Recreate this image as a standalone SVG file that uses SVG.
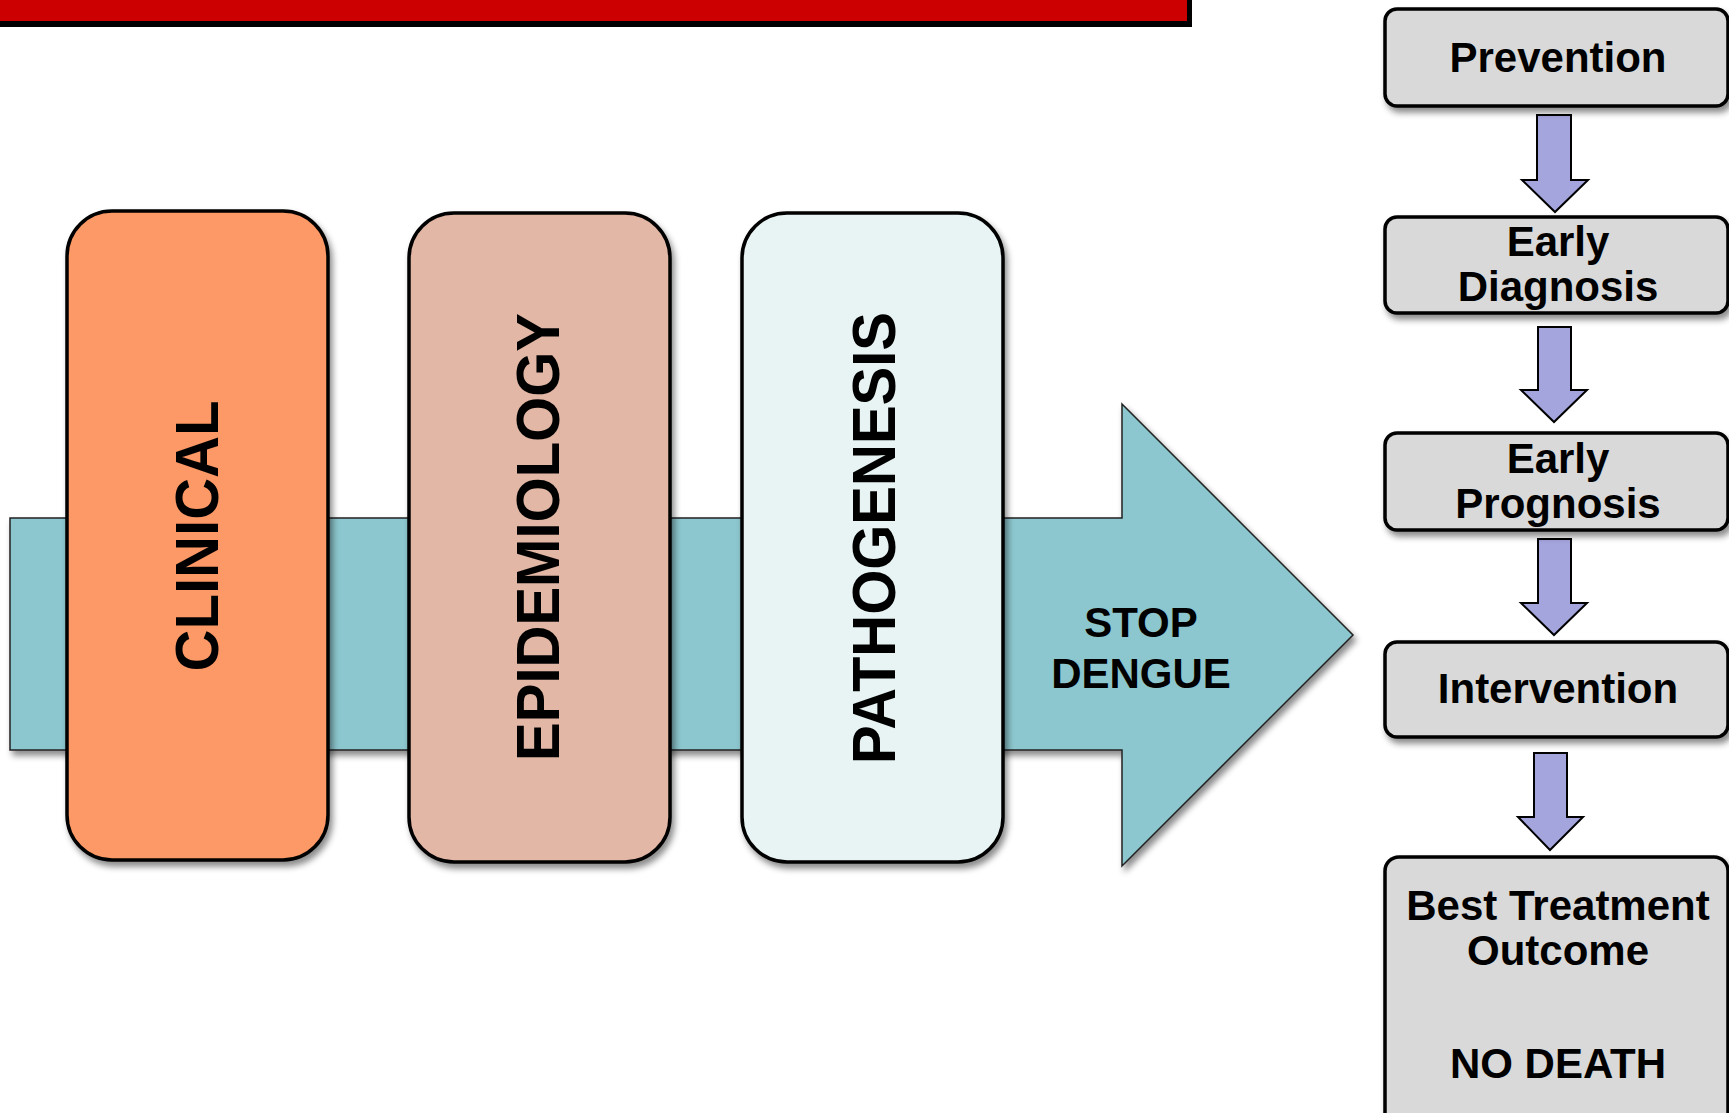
<svg xmlns="http://www.w3.org/2000/svg" width="1729" height="1113" viewBox="0 0 1729 1113">
<defs>
<filter id="sh" x="-10%" y="-10%" width="130%" height="130%">
<feDropShadow dx="3" dy="5" stdDeviation="3" flood-color="#000" flood-opacity="0.45"/>
</filter>
</defs>
<style>
.vt{font-family:"Liberation Sans",Arial,sans-serif;font-weight:bold;font-size:62px;fill:#000;text-anchor:middle}
.gt{font-family:"Liberation Sans",Arial,sans-serif;font-weight:bold;font-size:42px;fill:#000;text-anchor:middle}
.vbox{stroke:#000;stroke-width:3.5}
.gbox{fill:#d9d9d9;stroke:#000;stroke-width:3.5}
.darr{fill:#a5a5de;stroke:#000;stroke-width:2}
</style>
<rect width="1729" height="1113" fill="#fff"/>
<g id="title-bar">
<rect x="-5" y="-5" width="1197" height="32" fill="#000"/>
<rect x="-5" y="-5" width="1192" height="26" fill="#cc0000"/>
</g>
<g id="connectors">
<polygon id="big-arrow" points="10,518 1122,518 1122,404 1353,635 1122,866 1122,750 10,750" fill="#8cc6ce" stroke="#222" stroke-width="1.5" filter="url(#sh)"/>
<polygon class="darr" points="1537,115 1571,115 1571,180 1588,180 1555,212 1522,180 1537,180"/>
<polygon class="darr" points="1538,327 1571,327 1571,390 1587,390 1554,422 1521,390 1538,390"/>
<polygon class="darr" points="1538,539 1571,539 1571,603 1587,603 1554,635 1521,603 1538,603"/>
<polygon class="darr" points="1534,753 1567,753 1567,817 1583,817 1550,850 1518,817 1534,817"/>
</g>
<g id="stop-dengue">
<text class="gt" x="1141" y="637">STOP</text>
<text class="gt" x="1141" y="688">DENGUE</text>
</g>
<g id="clinical">
<rect class="vbox" x="67" y="211" width="261" height="649" rx="45" fill="#fd9966" filter="url(#sh)"/>
<text class="vt" transform="translate(218,536) rotate(-90)" x="0" y="0" textLength="271" lengthAdjust="spacingAndGlyphs">CLINICAL</text>
</g>
<g id="epidemiology">
<rect class="vbox" x="409" y="213" width="261" height="649" rx="45" fill="#e2b7a5" filter="url(#sh)"/>
<text class="vt" transform="translate(559,537) rotate(-90)" x="0" y="0" textLength="448" lengthAdjust="spacingAndGlyphs">EPIDEMIOLOGY</text>
</g>
<g id="pathogenesis">
<rect class="vbox" x="742" y="213" width="261" height="649" rx="45" fill="#e8f4f4" filter="url(#sh)"/>
<text class="vt" transform="translate(895,538) rotate(-90)" x="0" y="0" textLength="452" lengthAdjust="spacingAndGlyphs">PATHOGENESIS</text>
</g>
<g id="prevention">
<rect class="gbox" x="1385" y="9" width="343" height="97" rx="12" filter="url(#sh)"/>
<text class="gt" x="1558" y="72">Prevention</text>
</g>
<g id="early-diagnosis">
<rect class="gbox" x="1385" y="217" width="343" height="96" rx="12" filter="url(#sh)"/>
<text class="gt" x="1558" y="256">Early</text>
<text class="gt" x="1558" y="301">Diagnosis</text>
</g>
<g id="early-prognosis">
<rect class="gbox" x="1385" y="433" width="343" height="97" rx="12" filter="url(#sh)"/>
<text class="gt" x="1558" y="473">Early</text>
<text class="gt" x="1558" y="518">Prognosis</text>
</g>
<g id="intervention">
<rect class="gbox" x="1385" y="642" width="343" height="95" rx="12" filter="url(#sh)"/>
<text class="gt" x="1558" y="703">Intervention</text>
</g>
<g id="best-treatment">
<rect class="gbox" x="1385" y="857" width="343" height="290" rx="14" filter="url(#sh)"/>
<text class="gt" x="1558" y="920">Best Treatment</text>
<text class="gt" x="1558" y="965">Outcome</text>
<text class="gt" x="1558" y="1078">NO DEATH</text>
</g>
</svg>
